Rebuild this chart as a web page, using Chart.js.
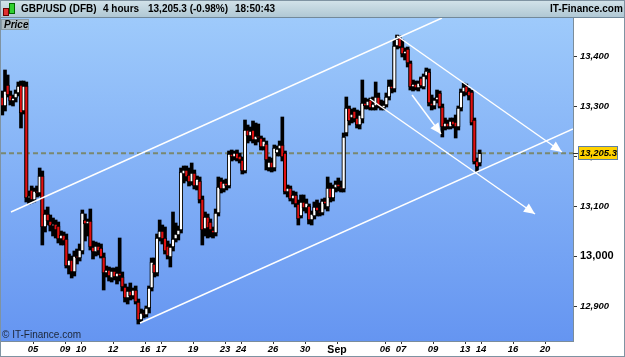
<!DOCTYPE html>
<html>
<head>
<meta charset="utf-8">
<script src="https://cdn.jsdelivr.net/npm/chart.js@4.4.0/dist/chart.umd.min.js"></script>
<style>
  body { margin:0; width:625px; height:357px; position:relative; overflow:hidden; background:#fff;
         font-family:"Liberation Sans", Arial, sans-serif; }
  #wrap { position:absolute; left:0; top:0; width:625px; height:357px; }
  #bar { position:absolute; left:0; top:0; width:625px; height:18px; box-sizing:border-box;
         background:linear-gradient(#d3e3ea,#b0c8d4); border-bottom:1px solid #72899a; }
  #bar span { position:absolute; top:3px; font-weight:bold; font-size:10px; color:#000; white-space:nowrap; }
  #price { position:absolute; left:1px; top:19px; width:28px; height:11px; background:#aebcc4;
           border:1px solid #8c9ca6; box-sizing:border-box; font:italic bold 10px "Liberation Sans", Arial;
           line-height:10px; padding-left:2px; color:#000; }
  #copy { position:absolute; left:2px; top:329px; font-size:10px; color:#1c2638; white-space:nowrap; }
  #frame { position:absolute; left:0; top:0; width:625px; height:357px; box-sizing:border-box;
           border:1px solid #7f93a2; pointer-events:none; }
</style>
</head>
<body>
<div id="wrap"><canvas id="c"></canvas></div>
<div id="bar">
  <div style="position:absolute;left:3px;top:8px;width:4px;height:6px;background:#e03030;border:1px solid #600"></div>
  <div style="position:absolute;left:9px;top:3px;width:4px;height:9px;background:#30d030;border:1px solid #060"></div>
  <span style="left:21px">GBP/USD (DFB)</span>
  <span style="left:103px">4 hours</span>
  <span style="left:148px">13,205.3 (-0.98%)</span>
  <span style="left:235px">18:50:43</span>
  <span style="left:550px">IT-Finance.com</span>
</div>
<div id="price">Price</div>
<div id="copy">© IT-Finance.com</div>
<div id="frame"></div>
<script>
// 4-hour candles, 6 per trading day, 3 Aug -> 13 Sep 2021
var open = [
  13318,13300,13342,13322,13310,13316, 13326,13342,13290,13340,13116,13132,
  13112,13130,13126,13160,13058,13084, 13070,13060,13064,13060,13034,13042,
  13034,12980,12992,12968,13000,12996, 13010,13072,13064,13070,13018,13008,
  13020,13016,12998,12966,12972,12956, 12970,12958,12966,12958,12938,12916,
  12930,12920,12932,12908,12872,12886, 12882,12896,12936,12984,12966,13036,
  13050,13036,13020,12998,13018,13034, 13042,13052,13164,13172,13162,13148,
  13166,13140,13150,13114,13054,13078, 13068,13052,13046,13086,13150,13134,
  13146,13140,13204,13198,13206,13200, 13192,13170,13252,13240,13252,13232,
  13240,13236,13218,13224,13176,13188, 13176,13206,13214,13222,13206,13128,
  13136,13114,13122,13104,13080,13108, 13096,13100,13072,13080,13098,13090,
  13086,13110,13098,13136,13116,13136, 13144,13138,13134,13246,13296,13276,
  13290,13276,13262,13274,13306,13300, 13312,13296,13300,13318,13300,13296,
  13302,13318,13340,13334,13420,13436, 13418,13404,13414,13386,13338,13344,
  13336,13356,13338,13360,13368,13306, 13300,13312,13326,13298,13258,13266,
  13258,13270,13268,13258,13296,13328, 13340,13330,13328,13272,13190,13186
];
var high = [
  13330,13372,13362,13330,13322,13332, 13348,13350,13350,13348,13130,13140,
  13136,13140,13176,13170,13092,13098, 13082,13076,13072,13068,13050,13048,
  13044,13004,13000,13010,13014,13024, 13092,13084,13074,13094,13030,13028,
  13026,13024,13006,12980,12978,12976, 12976,12978,13036,12968,12944,12938,
  12946,12936,12940,12914,12894,12892, 12900,12940,12996,12996,13044,13072,
  13062,13058,13030,13024,13088,13066, 13060,13176,13180,13180,13176,13186,
  13172,13160,13158,13120,13088,13084, 13074,13058,13094,13158,13156,13152,
  13154,13210,13212,13210,13212,13206, 13198,13272,13262,13258,13270,13266,
  13264,13240,13236,13230,13198,13196, 13222,13220,13230,13278,13210,13142,
  13140,13130,13128,13112,13122,13122, 13114,13104,13090,13108,13112,13106,
  13114,13116,13158,13146,13142,13150, 13156,13150,13246,13318,13300,13294,
  13296,13292,13290,13352,13316,13314, 13316,13318,13348,13326,13312,13310,
  13326,13352,13352,13432,13442,13440, 13432,13416,13418,13390,13352,13350,
  13350,13358,13364,13376,13374,13322, 13316,13332,13330,13304,13276,13272,
  13276,13276,13282,13300,13334,13346, 13344,13336,13332,13276,13196,13212
];
var low = [
  13282,13290,13318,13302,13300,13308, 13320,13256,13284,13108,13104,13106,
  13108,13118,13120,13022,13048,13062, 13050,13040,13036,13026,13022,13022,
  12976,12964,12956,12960,12984,12990, 13004,13030,13040,13012,12994,13000,
  13002,12996,12932,12958,12950,12948, 12952,12944,12950,12930,12908,12904,
  12912,12914,12904,12864,12868,12876, 12878,12886,12930,12958,12960,13030,
  13024,13004,12994,12978,13010,13028, 13032,13046,13146,13150,13140,13142,
  13134,13132,13106,13022,13040,13036, 13038,13036,13040,13080,13126,13128,
  13132,13136,13190,13192,13190,13186, 13164,13166,13226,13230,13226,13222,
  13228,13212,13212,13172,13170,13168, 13170,13200,13200,13190,13124,13118,
  13110,13104,13098,13062,13076,13090, 13086,13064,13062,13074,13080,13080,
  13082,13094,13090,13108,13110,13128, 13130,13128,13128,13240,13262,13266,
  13268,13256,13254,13266,13294,13294, 13292,13292,13292,13296,13292,13292,
  13298,13312,13326,13328,13414,13416, 13398,13392,13378,13332,13330,13332,
  13330,13336,13334,13354,13300,13292, 13294,13306,13296,13238,13252,13254,
  13254,13256,13236,13252,13290,13320, 13322,13312,13262,13184,13168,13180
];
var close = [
  13300,13330,13322,13310,13316,13326, 13340,13286,13340,13116,13120,13112,
  13130,13126,13160,13058,13084,13070, 13060,13064,13052,13034,13042,13030,
  12980,12992,12968,13000,12996,13012, 13086,13064,13070,13018,13008,13020,
  13010,12998,12966,12972,12960,12970, 12958,12966,12960,12938,12916,12930,
  12920,12932,12908,12872,12886,12882, 12896,12936,12988,12966,13036,13050,
  13034,13010,13000,13018,13034,13044, 13052,13168,13172,13158,13148,13166,
  13140,13154,13112,13052,13078,13056, 13052,13046,13086,13138,13134,13146,
  13140,13204,13198,13206,13194,13192, 13170,13252,13240,13250,13232,13240,
  13236,13218,13230,13192,13188,13176, 13216,13214,13222,13198,13128,13136,
  13114,13122,13104,13074,13108,13096, 13106,13072,13084,13098,13090,13086,
  13110,13104,13136,13116,13136,13144, 13138,13134,13238,13296,13270,13284,
  13274,13262,13282,13306,13300,13310, 13296,13304,13318,13300,13296,13302,
  13318,13340,13334,13420,13434,13418, 13404,13410,13386,13338,13344,13336,
  13346,13340,13360,13370,13306,13300, 13312,13318,13298,13258,13266,13258,
  13270,13262,13258,13296,13328,13338, 13326,13320,13266,13188,13178,13205.3
];
var lastPrice = 13205.3;

// x axis in trading days from 3 Aug (0) to past 20 Sep
var xTickDays = [2, 4, 5, 7, 9, 10, 12, 14, 15, 17, 19, 21, 24, 25, 27, 29, 30, 32, 34];
var xTickLabels = ['05','09','10','12','16','17','19','23','24','26','30','Sep','06','07','09','13','14','16','20'];
var yTicks = [12900, 13000, 13100, 13200, 13300, 13400];

// drawn trend lines: [day, price] pairs
var upperChannel = [[0.625, 13088], [27.56, 13476]];
var lowerChannel = [[8.69, 12866], [35.75, 13254]];
var downLineA = [[24.75, 13440], [35.06, 13208]];
var downLineB = [[23.06, 13314], [33.375, 13084]];
var downLineC = [[25.69, 13322], [27.5, 13244]];

var bars = close.map(function (c, i) { return (i + 0.5) / 6; });
var wickData = bars.map(function (x, i) { return { x: x, y: [low[i], high[i]] }; });
var bodyData = bars.map(function (x, i) { return { x: x, y: [open[i], close[i]] }; });

function toPts(a) { return a.map(function (p) { return { x: p[0], y: p[1] }; }); }
function trend(pts, arrow) {
  return { type: 'line', data: toPts(pts), borderColor: '#ffffff', borderWidth: 1.5,
           pointRadius: 0, tension: 0, order: 0, arrow: arrow };
}

var fam = '"Liberation Sans", Arial, sans-serif';

var deco = {
  id: 'deco',
  beforeDraw: function (chart) {
    var a = chart.chartArea, ctx = chart.ctx;
    var g = ctx.createLinearGradient(0, a.top, 0, a.bottom);
    g.addColorStop(0, '#9ecafb');
    g.addColorStop(1, '#6595f1');
    ctx.save();
    ctx.fillStyle = g;
    ctx.fillRect(a.left, a.top, a.right - a.left, a.bottom - a.top);
    ctx.restore();
  },
  afterDatasetsDraw: function (chart) {
    var ctx = chart.ctx;
    ctx.save();
    chart.data.datasets.forEach(function (ds, k) {
      if (!ds.arrow) return;
      var pts = chart.getDatasetMeta(k).data;
      var p0 = pts[pts.length - 2], p1 = pts[pts.length - 1];
      var ang = Math.atan2(p1.y - p0.y, p1.x - p0.x);
      ctx.fillStyle = '#ffffff';
      ctx.beginPath();
      ctx.moveTo(p1.x, p1.y);
      ctx.lineTo(p1.x - 11 * Math.cos(ang) + 5 * Math.sin(ang), p1.y - 11 * Math.sin(ang) - 5 * Math.cos(ang));
      ctx.lineTo(p1.x - 11 * Math.cos(ang) - 5 * Math.sin(ang), p1.y - 11 * Math.sin(ang) + 5 * Math.cos(ang));
      ctx.closePath();
      ctx.fill();
    });
    ctx.restore();
  },
  afterDraw: function (chart) {
    var a = chart.chartArea, ctx = chart.ctx;
    ctx.save();
    ctx.strokeStyle = '#7b8d9a';
    ctx.lineWidth = 1;
    ctx.strokeRect(a.left - 0.5, a.top - 0.5, a.right - a.left + 1, a.bottom - a.top + 1);
    // last price tag
    var y = Math.round(chart.scales.y.getPixelForValue(lastPrice));
    ctx.strokeStyle = '#333';
    ctx.beginPath(); ctx.moveTo(a.right, y + 0.5); ctx.lineTo(a.right + 5, y + 0.5); ctx.stroke();
    ctx.fillStyle = '#ffd200';
    ctx.fillRect(a.right + 5, y - 7, 40, 14);
    ctx.strokeStyle = '#5d7fa6';
    ctx.strokeRect(a.right + 5.5, y - 6.5, 39, 13);
    ctx.fillStyle = '#000';
    ctx.font = 'italic bold 9.5px ' + fam;
    ctx.textBaseline = 'middle';
    ctx.fillText('13,205.3', a.right + 7, y + 0.5);
    ctx.restore();
  }
};

new Chart(document.getElementById('c'), {
  type: 'bar',
  data: {
    datasets: [
      trend(upperChannel, false),
      trend(lowerChannel, false),
      trend(downLineA, true),
      trend(downLineB, true),
      trend(downLineC, true),
      { type: 'bar', data: bodyData, barThickness: 3.5, grouped: false, borderSkipped: false,
        borderWidth: 1, borderColor: '#000',
        backgroundColor: function (c) { var i = c.dataIndex; return close[i] >= open[i] ? '#ffffff' : '#e01010'; },
        order: 1 },
      { type: 'bar', data: wickData, barThickness: 3, grouped: false, borderSkipped: false,
        borderWidth: 0, backgroundColor: '#000', order: 2 },
      { type: 'line', data: [{ x: 0, y: lastPrice }, { x: 35.75, y: lastPrice }], borderColor: '#7a8870',
        borderWidth: 2, borderDash: [5, 3], pointRadius: 0, order: 3 }
    ]
  },
  options: {
    responsive: true, maintainAspectRatio: false, animation: false, devicePixelRatio: 1,
    layout: { padding: { top: 18, left: 1, right: 0, bottom: 0 } },
    plugins: { legend: { display: false }, tooltip: { enabled: false } },
    scales: {
      x: {
        type: 'linear', min: 0, max: 35.75, offset: false,
        border: { display: false },
        grid: { offset: false, drawOnChartArea: false, tickLength: 3, color: '#333' },
        afterBuildTicks: function (s) { s.ticks = xTickDays.map(function (v) { return { value: v }; }); },
        afterFit: function (s) { s.height = 16; },
        ticks: {
          autoSkip: false, maxRotation: 0, padding: 0, color: '#000',
          callback: function (v, i) { return xTickLabels[i]; },
          font: function (c) {
            return xTickLabels[c.index] === 'Sep'
              ? { family: fam, size: 10.5, weight: 'bold', style: 'normal' }
              : { family: fam, size: 9.5, weight: 'bold', style: 'italic' };
          }
        }
      },
      y: {
        type: 'linear', position: 'right', min: 12830, max: 13476,
        border: { display: false },
        grid: { drawOnChartArea: false, tickLength: 4, color: '#333' },
        afterBuildTicks: function (s) { s.ticks = yTicks.map(function (v) { return { value: v }; }); },
        afterFit: function (s) { s.width = 52; },
        ticks: {
          padding: 3, color: '#000',
          callback: function (v) { return v.toLocaleString('en-US'); },
          font: function (c) {
            return c.tick && c.tick.value === 13000
              ? { family: fam, size: 11, weight: 'bold', style: 'normal' }
              : { family: fam, size: 9.5, weight: 'bold', style: 'italic' };
          }
        }
      }
    }
  },
  plugins: [deco]
});
</script>
</body>
</html>
